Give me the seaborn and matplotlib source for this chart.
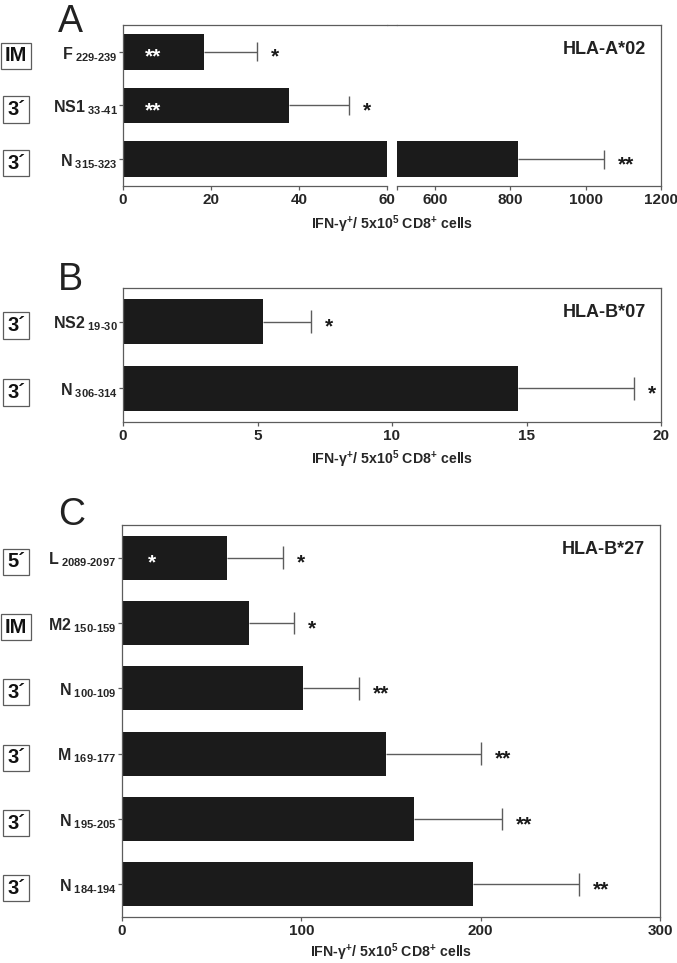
import matplotlib
matplotlib.use('Agg')
import numpy as np
import pandas as pd
import matplotlib.pyplot as plt
import seaborn as sns
from matplotlib.lines import Line2D

# ---------------------------------------------------------------------------
# IFN-gamma responses of CD8+ cells per epitope, three HLA panels
# ---------------------------------------------------------------------------

# panel A - HLA-A*02
a_names = ['F', 'NS1', 'N']
a_subs = ['229-239', '33-41', '315-323']
a_regions = ['IM', '3´', '3´']
a_means = [18.4, 37.7, 820]
a_errs = [30.4, 51.3, 1048]
a_stars_out = ['*', '*', '**']
a_stars_in = ['**', '**', '']

# panel B - HLA-B*07
b_names = ['NS2', 'N']
b_subs = ['19-30', '306-314']
b_regions = ['3´', '3´']
b_means = [5.2, 14.7]
b_errs = [7.0, 19.0]
b_stars_out = ['*', '*']
b_stars_in = ['', '']

# panel C - HLA-B*27
c_names = ['L', 'M2', 'N', 'M', 'N', 'N']
c_subs = ['2089-2097', '150-159', '100-109', '169-177', '195-205', '184-194']
c_regions = ['5´', 'IM', '3´', '3´', '3´', '3´']
c_means = [58.6, 70.8, 101, 147, 163, 196]
c_errs = [90, 96, 132, 200, 212, 255]
c_stars_out = ['*', '*', '**', '**', '**', '**']
c_stars_in = ['*', '', '', '', '', '']

BAR = '#1b1b1b'
GRAY = '#5c5c5c'
XLABEL = 'IFN-γ$^{+}$/ 5x10$^{5}$ CD8$^{+}$ cells'

sns.set_theme(style='ticks')
plt.rcParams['font.family'] = ['Liberation Sans', 'DejaVu Sans']
plt.rcParams['font.weight'] = 'bold'
plt.rcParams['mathtext.fontset'] = 'custom'
plt.rcParams['mathtext.rm'] = 'Liberation Sans:bold'
plt.rcParams['mathtext.it'] = 'Liberation Sans:bold'
plt.rcParams['mathtext.bf'] = 'Liberation Sans:bold'
plt.rcParams['mathtext.sf'] = 'Liberation Sans:bold'
plt.rcParams['axes.edgecolor'] = GRAY
plt.rcParams['axes.linewidth'] = 0.9


def make_labels(names, subs):
    out = []
    for n, s in zip(names, subs):
        out.append('$' + n + r'_{\ ' + s.replace('-', r'\text{-}') + '}$')
    return out


def draw_bars(ax, names, subs, means, errs, stars_out, stars_in, xlim, xticks, xticklabels):
    df = pd.DataFrame({'label': make_labels(names, subs), 'value': means})
    sns.barplot(data=df, x='value', y='label', orient='h', color=BAR, saturation=1,
                width=0.67, errorbar=None, linewidth=0, ax=ax)
    ax.set_xlim(*xlim)
    ax.set_ylim(len(names) - 0.5, -0.5)
    ax.set_xticks(xticks)
    ax.set_xticklabels(xticklabels, fontweight='bold', fontsize=11)
    ax.set_xlabel('')
    ax.set_ylabel('')
    ax.tick_params(axis='x', length=3, width=0.9, color=GRAY, pad=2)
    ax.tick_params(axis='y', length=3, width=0.9, color=GRAY, pad=1, labelsize=11.5)
    for i in range(len(names)):
        if xlim[0] <= errs[i] <= xlim[1]:
            ax.hlines(i, means[i], errs[i], color=GRAY, lw=1.0)
            ax.vlines(errs[i], i - 0.175, i + 0.175, color=GRAY, lw=1.0)
            ax.annotate(stars_out[i], xy=(errs[i], i), xytext=(14, -11),
                        textcoords='offset pixels', ha='left', va='baseline',
                        fontsize=15, fontweight='bold', color='#1a1a1a')
        if stars_in[i] and xlim[0] == 0:
            ax.annotate(stars_in[i], xy=(0, i), xytext=(30, -11),
                        textcoords='offset pixels', ha='center', va='baseline',
                        fontsize=15, fontweight='bold', color='white')


def draw_regions(ax, regions, dx):
    for i, r in enumerate(regions):
        ax.annotate(r, xy=(0, i), xycoords=('axes fraction', 'data'),
                    xytext=(dx, -4), textcoords='offset pixels', ha='center', va='center',
                    fontsize=14.5, fontweight='bold', color='#111111',
                    bbox=dict(boxstyle='square,pad=0.18', fc='white', ec=GRAY, lw=0.9))


def hla_label(ax, text):
    ax.annotate(text, xy=(1, 1), xycoords='axes fraction', xytext=(-15, -24),
                textcoords='offset pixels', ha='right', va='center',
                fontsize=13, fontweight='bold', color='#222222')


def x_label(ax, xfrac, dy):
    ax.annotate(XLABEL, xy=(xfrac, 0), xycoords='axes fraction', xytext=(0, dy),
                textcoords='offset pixels', ha='center', va='center', fontsize=10.2,
                fontweight='bold')


W, H = 677, 963
fig = plt.figure(figsize=(W / 100, H / 100), dpi=100)


def px_axes(x0, y0, x1, y1):
    return fig.add_axes([x0 / W, 1 - y1 / H, (x1 - x0) / W, (y1 - y0) / H])


# ---- panel A (broken axis) ----
ax_a1 = px_axes(123, 25, 387, 186)
ax_a2 = px_axes(397, 25, 661, 186)
draw_bars(ax_a1, a_names, a_subs, a_means, a_errs, a_stars_out, a_stars_in,
          (0, 60), [0, 20, 40, 60], ['0', '20', '40', '60'])
draw_bars(ax_a2, a_names, a_subs, a_means, a_errs, a_stars_out, a_stars_in,
          (500, 1200), [500, 600, 800, 1000, 1200], ['', '600', '800', '1000', '1200'])
ax_a1.spines['right'].set_visible(False)
ax_a2.spines['left'].set_visible(False)
ax_a2.tick_params(axis='y', left=False, labelleft=False)
p1, p2 = ax_a1.get_position(), ax_a2.get_position()
fig.add_artist(Line2D([p1.x1, p2.x0], [p1.y1, p1.y1], transform=fig.transFigure,
                      color=GRAY, lw=0.9))
draw_regions(ax_a1, a_regions, -107)
hla_label(ax_a2, 'HLA-A*02')
x_label(ax_a1, 269 / 264, -38)

# ---- panel B ----
ax_b = px_axes(123, 288, 661, 422)
draw_bars(ax_b, b_names, b_subs, b_means, b_errs, b_stars_out, b_stars_in,
          (0, 20), [0, 5, 10, 15, 20], ['0', '5', '10', '15', '20'])
draw_regions(ax_b, b_regions, -107)
hla_label(ax_b, 'HLA-B*07')
x_label(ax_b, 0.5, -37)

# ---- panel C ----
ax_c = px_axes(122, 525, 660, 917)
draw_bars(ax_c, c_names, c_subs, c_means, c_errs, c_stars_out, c_stars_in,
          (0, 300), [0, 100, 200, 300], ['0', '100', '200', '300'])
draw_regions(ax_c, c_regions, -106)
hla_label(ax_c, 'HLA-B*27')
x_label(ax_c, 0.5, -35)

# panel letters
for letter, base in [('A', 32), ('B', 290), ('C', 525)]:
    fig.text(58 / W, 1 - base / H, letter, fontsize=27, fontweight='normal',
             ha='left', va='baseline', color='#222222')

fig.savefig('out.png', dpi=100)
